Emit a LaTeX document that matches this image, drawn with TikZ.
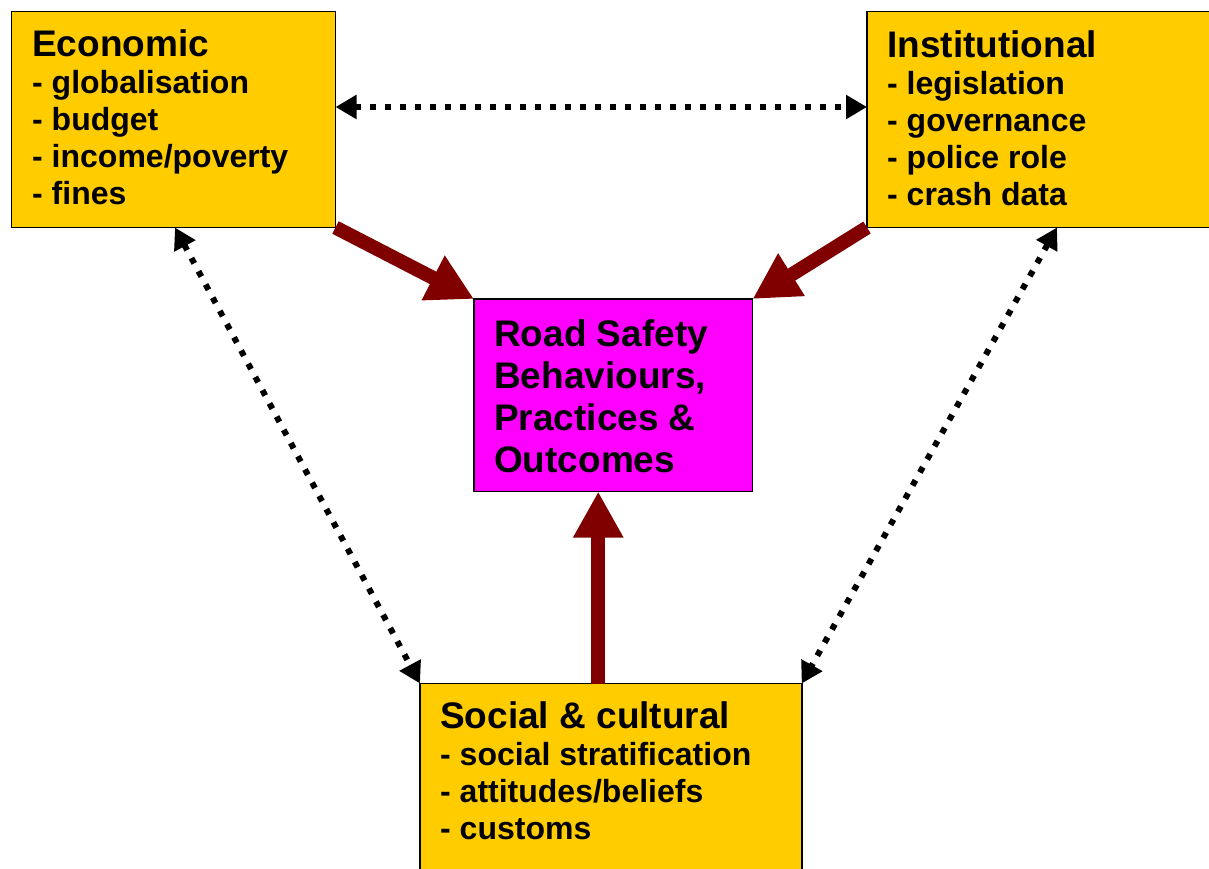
\documentclass[tikz,border=0pt]{standalone}
\usepackage{fontspec}
\setmainfont{Liberation Sans}
\usetikzlibrary{arrows.meta,calc}
\definecolor{boxyellow}{HTML}{FFCC00}
\definecolor{boxmagenta}{HTML}{FF00FF}
\definecolor{arrowred}{HTML}{800000}
\tikzset{
  ybox/.style={draw=black, line width=1.8pt, fill=boxyellow, rectangle, anchor=north west, outer sep=0pt, inner sep=0pt},
  mbox/.style={draw=black, line width=1.8pt, fill=boxmagenta, rectangle, anchor=north west, outer sep=0pt, inner sep=0pt},
  listtext/.style={anchor=north west, inner sep=0pt, align=left, font=\bfseries\fontsize{32}{37}\selectfont},
  centertext/.style={anchor=north west, inner sep=0pt, align=left, font=\bfseries\fontsize{37}{42}\selectfont},
  bigarrow/.style={draw=arrowred, line width=14pt, -{Triangle[length=46pt,width=47pt]}, fill=arrowred},
  dotarrow/.style={draw=black, line width=6pt, dash pattern=on 6pt off 9pt, {Triangle[length=21pt,width=23pt]}-{Triangle[length=21pt,width=23pt]}}
}
\newcommand{\ttl}[1]{{\fontsize{37}{37}\selectfont #1}}
\begin{document}
\begin{tikzpicture}[x=1pt,y=-1pt]
\useasboundingbox[fill=white] (0,0) rectangle (1209,868);
% boxes
\node[ybox, minimum width=324pt, minimum height=216pt] (eco) at (11.5,11.5) {};
\node[ybox, minimum width=350pt, minimum height=216pt] (inst) at (867,11.5) {};
\node[mbox, minimum width=278.5pt, minimum height=192.5pt] (ctr) at (474,299) {};
\node[ybox, minimum width=381.7pt, minimum height=200pt] (soc) at (420,683.5) {};
% texts
\node[listtext] (ecotext) at (32,26.7) {\rule{0pt}{30pt}\ttl{Economic}\\- globalisation\\- budget\\- income/poverty\\- fines};
\node[listtext] (insttext) at (887,27) {\rule{0pt}{30pt}\ttl{Institutional}\\- legislation\\- governance\\- police role\\- crash data};
\node[centertext] (ctrtext) at (494,316.7) {\rule{0pt}{30pt}Road Safety\\Behaviours,\\Practices \&\\Outcomes};
\node[listtext] (soctext) at (440,698.3) {\rule{0pt}{30pt}\ttl{Social \& cultural}\\- social stratification\\- attitudes/beliefs\\- customs};
% thick arrows
\draw[bigarrow] (eco.south east) -- (ctr.north west);
\draw[bigarrow] (inst.south west) -- (ctr.north east);
\coordinate (up) at ([xshift=-15pt]ctr.south);
\draw[bigarrow] (up |- soc.north) -- (up);
% dotted arrows
\draw[dotarrow] ([yshift=12.5pt]eco.east) -- ([yshift=12.5pt]inst.west);
\draw[dotarrow] ([xshift=1.5pt]eco.south) -- (soc.north west);
\draw[dotarrow] ([xshift=190pt]inst.south west) -- (soc.north east);
\end{tikzpicture}
\end{document}
